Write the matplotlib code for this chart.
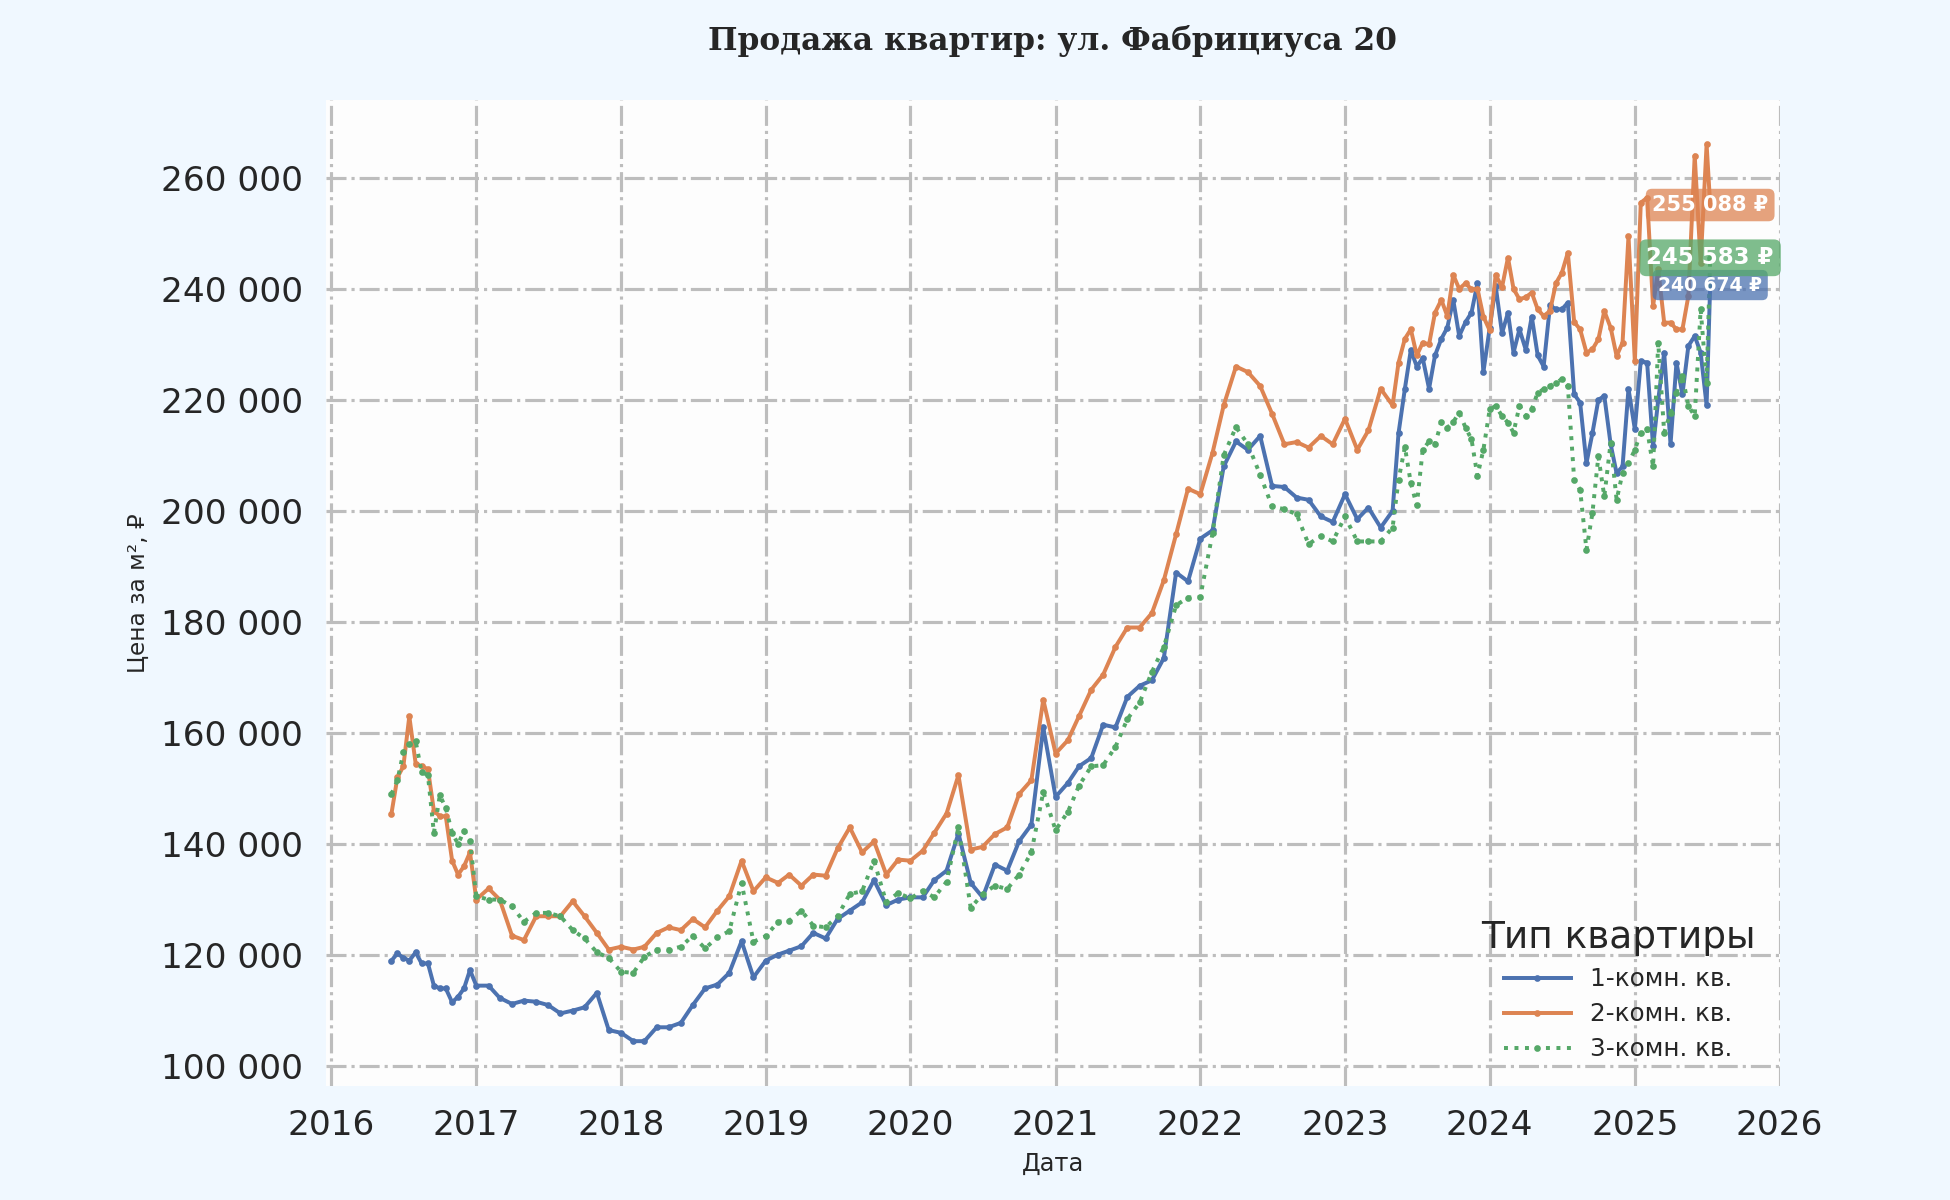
import matplotlib
matplotlib.use("Agg")
import matplotlib.pyplot as plt
import matplotlib.dates as mdates
from matplotlib.ticker import FuncFormatter
import pandas as pd

# даты: полумесячно в 2016, помесячно до апреля 2023, далее полумесячно
dates_2016 = ["2016-06-01", "2016-06-16", "2016-07-01", "2016-07-16", "2016-08-01", "2016-08-16",
              "2016-09-01", "2016-09-16", "2016-10-01", "2016-10-16", "2016-11-01", "2016-11-16",
              "2016-12-01", "2016-12-16"]
dates_mid = [d.strftime("%Y-%m-%d") for d in pd.date_range("2017-01-01", "2023-04-01", freq="MS")]
dates_end = []
for d in pd.date_range("2023-05-01", "2025-07-01", freq="MS"):
    dates_end.append(d.strftime("%Y-%m-%d"))
    if d < pd.Timestamp("2025-07-01"):
        dates_end.append((d + pd.Timedelta(days=15)).strftime("%Y-%m-%d"))
dates_end.append("2025-07-10")
dates = pd.to_datetime(dates_2016 + dates_mid + dates_end)

# 1-комн. (тыс. руб. за м²)
room1 = [119.0, 120.3, 119.5, 119.0, 120.5, 118.5, 118.5, 114.5, 114.0, 114.0, 111.5, 112.5, 114.0, 117.3,
         114.5, 114.5, 112.3, 111.2, 111.8, 111.6, 111.0, 109.5, 110.0, 110.6, 113.2, 106.5,
         106.0, 104.5, 104.5, 107.0, 107.0, 107.8, 111.0, 114.0, 114.7, 116.8, 122.5, 116.0,
         119.0, 120.1, 120.8, 121.6, 124.0, 123.0, 126.5, 128.0, 129.5, 133.5, 129.0, 130.0,
         130.4, 130.4, 133.5, 135.2, 141.9, 133.0, 130.4, 136.3, 135.2, 140.5, 143.5, 161.0,
         148.5, 151.0, 154.0, 155.5, 161.5, 161.0, 166.5, 168.5, 169.5, 173.5, 188.9, 187.3,
         195.0, 196.5, 208.0, 212.5, 211.0, 213.5, 204.5, 204.3, 202.4, 202.0, 199.0, 198.0,
         203.0, 198.5, 200.6, 197.0,
         200.0, 214.0, 222.0, 229.0, 226.0, 227.5, 222.0, 228.0, 231.0, 233.0, 238.0, 231.5,
         234.0, 235.7, 241.0, 225.0,
         233.0, 240.5, 232.0, 235.7, 228.5, 232.7, 229.0, 235.0, 228.0, 226.0, 237.0, 236.3,
         236.3, 237.5, 221.0, 219.5, 208.6, 214.0, 220.0, 220.7, 212.0, 206.8, 208.0, 222.0,
         214.7, 227.0, 226.7, 211.6, 220.0, 228.5, 212.0, 226.7, 221.0, 229.7, 231.5, 228.5,
         219.0, 240.674]

# 2-комн.
room2 = [145.5, 152.0, 154.0, 163.0, 154.5, 154.0, 153.5, 146.0, 145.0, 145.0, 137.0, 134.5, 136.0, 138.5,
         130.0, 132.0, 130.0, 123.5, 122.7, 127.0, 127.0, 127.0, 129.7, 127.0, 124.0, 121.0,
         121.5, 121.0, 121.5, 124.0, 125.0, 124.5, 126.5, 125.0, 128.0, 130.6, 137.0, 131.5,
         134.0, 133.0, 134.5, 132.5, 134.5, 134.3, 139.2, 143.0, 138.5, 140.5, 134.5, 137.2,
         137.0, 138.8, 142.0, 145.5, 152.4, 139.0, 139.5, 141.8, 143.0, 149.0, 151.5, 166.0,
         156.3, 158.7, 163.0, 167.8, 170.5, 175.5, 179.0, 179.0, 181.6, 187.5, 195.8, 204.0,
         203.0, 210.5, 219.0, 226.0, 225.0, 222.5, 217.5, 212.0, 212.4, 211.4, 213.5, 212.0,
         216.6, 211.0, 214.5, 222.0,
         219.0, 226.7, 231.0, 232.7, 228.0, 230.3, 230.0, 235.7, 238.0, 235.1, 242.5, 240.0,
         241.0, 239.9, 240.0, 235.0,
         232.5, 242.5, 240.3, 245.6, 240.0, 238.1, 238.5, 239.3, 236.3, 235.1, 236.0, 241.0,
         242.9, 246.5, 234.0, 232.7, 228.5, 229.1, 230.9, 236.0, 233.0, 227.9, 230.3, 249.5,
         227.0, 255.5, 256.4, 236.9, 243.5, 233.9, 233.9, 232.7, 232.7, 238.7, 264.0, 244.7,
         266.0, 255.088]

# 3-комн.
room3 = [149.0, 151.5, 156.5, 158.0, 158.5, 153.0, 152.4, 142.0, 148.8, 146.5, 142.0, 140.0, 142.4, 140.6,
         130.6, 130.0, 130.0, 128.8, 126.0, 127.6, 127.6, 127.0, 124.5, 123.0, 120.5, 119.5,
         117.0, 116.8, 119.7, 121.0, 121.0, 121.5, 123.5, 121.2, 123.2, 124.3, 133.0, 122.4,
         123.4, 126.0, 126.2, 128.0, 125.3, 125.0, 127.0, 131.0, 131.5, 137.0, 129.5, 131.2,
         130.2, 131.6, 130.4, 133.2, 143.0, 128.5, 131.0, 132.5, 131.9, 134.5, 138.5, 149.4,
         142.5, 145.8, 150.5, 154.0, 154.2, 157.5, 162.5, 165.5, 171.0, 175.5, 183.0, 184.4,
         184.5, 196.0, 210.0, 215.1, 212.0, 206.5, 200.8, 200.3, 199.4, 194.0, 195.5, 194.5,
         199.0, 194.5, 194.5, 194.5,
         197.0, 205.6, 211.5, 205.0, 201.0, 211.0, 212.5, 212.0, 216.0, 215.0, 216.0, 217.7,
         215.0, 212.9, 206.3, 211.0,
         218.3, 218.9, 217.1, 215.9, 214.1, 218.9, 217.1, 218.3, 221.3, 221.9, 222.5, 223.1,
         223.7, 222.5, 205.6, 203.8, 193.0, 199.6, 209.8, 202.6, 212.3, 202.0, 206.8, 208.6,
         211.0, 214.1, 214.7, 208.0, 230.3, 214.1, 217.7, 221.3, 224.3, 218.9, 217.1, 236.3,
         223.1, 245.583]

labels = ["1-комн. кв.", "2-комн. кв.", "3-комн. кв."]
colors = ["#4C72B0", "#DD8452", "#55A868"]
styles = ["-", "-", ":"]
label_sizes = [9, 10, 11]

df = pd.DataFrame({labels[0]: room1, labels[1]: room2, labels[2]: room3}, index=dates) * 1000

fig, ax = plt.subplots(figsize=(13, 8), dpi=150)
fig.patch.set_facecolor("#F0F8FF")
ax.set_facecolor("#FDFDFD")
fig.subplots_adjust(left=0.167, right=0.913, top=0.917, bottom=0.095)

for col, c, ls in zip(labels, colors, styles):
    ax.plot(df.index, df[col], color=c, linestyle=ls, linewidth=1.9,
            marker="o", markersize=2.2, label=col)

# подписи последних значений
for col, c, fs in zip(labels, colors, label_sizes):
    last_x = df.index[-1]
    last_y = df[col].iloc[-1]
    txt = f"{last_y:,.0f}".replace(",", " ") + " ₽"
    ax.text(last_x, last_y, txt, ha="center", va="center", fontsize=fs,
            fontweight="bold", color="white", zorder=5,
            bbox=dict(boxstyle="round,pad=0.3", fc=c, ec="none", alpha=0.75))

ax.set_xlim(pd.Timestamp("2015-12-18"), pd.Timestamp("2026-01-03"))
ax.xaxis.set_major_locator(mdates.YearLocator())
ax.xaxis.set_major_formatter(mdates.DateFormatter("%Y"))
ax.yaxis.set_major_formatter(FuncFormatter(lambda v, p: f"{v:,.0f}".replace(",", " ")))
ax.tick_params(axis="both", labelsize=16.5, length=0, pad=11, colors="#262626")

ax.grid(True, linestyle="-.", linewidth=1.5, color="#BDBDBD")
for s in ax.spines.values():
    s.set_visible(False)

ax.set_title("Продажа квартир: ул. Фабрициуса 20", family="DejaVu Serif",
             fontweight="bold", fontsize=15, pad=24, color="#262626")
ax.set_xlabel("Дата", fontsize=11.5, color="#262626", labelpad=5)
ax.set_ylabel("Цена за м², ₽", fontsize=11.2, color="#262626", labelpad=5)

leg = ax.legend(title="Тип квартиры", loc="lower right", fontsize=11.8,
                title_fontsize=18, frameon=False, labelspacing=0.45,
                handlelength=2.7, borderaxespad=0.6)
for t in leg.get_texts():
    t.set_color("#262626")
leg.get_title().set_color("#262626")

fig.savefig("out.png", dpi=150, facecolor=fig.get_facecolor())
